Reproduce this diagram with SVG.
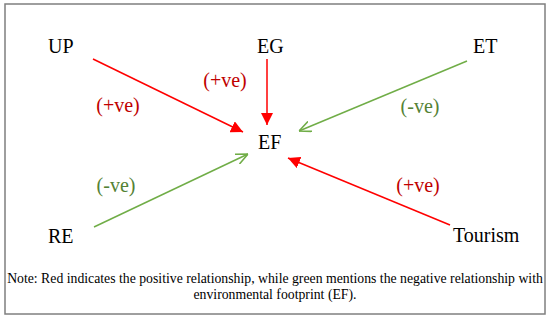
<svg xmlns="http://www.w3.org/2000/svg" width="550" height="319" viewBox="0 0 550 319">
<style>
.n{font-size:20px;fill:#000}
.pos{font-size:20px;fill:#C00000}
.neg{font-size:20px;fill:#548235}
.note{font-size:13.75px;fill:#000}
.r{stroke:#FF0000;stroke-width:1.5;fill:none}
.g{stroke:#70AD47;stroke-width:1.5;fill:none}
</style>
<defs>
<marker id="ar" viewBox="0 0 10 10" refX="10" refY="5" markerWidth="12" markerHeight="12" markerUnits="userSpaceOnUse" orient="auto">
<path d="M0,0 L10,5 L0,10 z" fill="#FF0000"/>
</marker>
<marker id="ag" viewBox="0 0 10 10" refX="10" refY="5" markerWidth="12" markerHeight="12" markerUnits="userSpaceOnUse" orient="auto">
<path d="M0,0.5 L10,5 L0,9.5" fill="none" stroke="#70AD47" stroke-width="1.3"/>
</marker>
</defs>
<rect x="5" y="4" width="540" height="310" fill="#fff" stroke="#7f7f7f" stroke-width="1.5"/>
<g id="connectors">
<line class="r" x1="93" y1="59" x2="243" y2="132" marker-end="url(#ar)"/>
<line class="r" x1="267" y1="59" x2="267" y2="125" marker-end="url(#ar)"/>
<line class="g" x1="467" y1="61" x2="299" y2="131" marker-end="url(#ag)"/>
<line class="g" x1="94" y1="227" x2="248" y2="154" marker-end="url(#ag)"/>
<line class="r" x1="450" y1="225" x2="288" y2="158" marker-end="url(#ar)"/>
<text class="pos" font-family="Liberation Serif, serif" x="118" y="112" text-anchor="middle">(+ve)</text>
<text class="pos" font-family="Liberation Serif, serif" x="225" y="87" text-anchor="middle">(+ve)</text>
<text class="neg" font-family="Liberation Serif, serif" x="420" y="113" text-anchor="middle">(-ve)</text>
<text class="neg" font-family="Liberation Serif, serif" x="116" y="192" text-anchor="middle">(-ve)</text>
<text class="pos" font-family="Liberation Serif, serif" x="418" y="192" text-anchor="middle">(+ve)</text>
</g>
<g id="UP"><text class="n" font-family="Liberation Serif, serif" x="48" y="53">UP</text></g>
<g id="EG"><text class="n" font-family="Liberation Serif, serif" x="257" y="53">EG</text></g>
<g id="ET"><text class="n" font-family="Liberation Serif, serif" x="473" y="53">ET</text></g>
<g id="EF"><text class="n" font-family="Liberation Serif, serif" x="258" y="149">EF</text></g>
<g id="RE"><text class="n" font-family="Liberation Serif, serif" x="48" y="243">RE</text></g>
<g id="Tourism"><text class="n" font-family="Liberation Serif, serif" x="453" y="242">Tourism</text></g>
<g id="note">
<text class="note" font-family="Liberation Serif, serif" x="275" y="283" text-anchor="middle">Note: Red indicates the positive relationship, while green mentions the negative relationship with</text>
<text class="note" font-family="Liberation Serif, serif" x="275" y="299" text-anchor="middle">environmental footprint (EF).</text>
</g>
</svg>
